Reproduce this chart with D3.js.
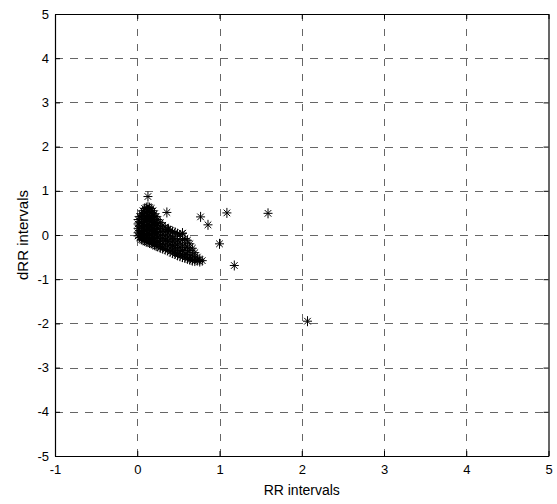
<!DOCTYPE html>
<html>
<head>
<meta charset="utf-8">
<script src="https://cdn.jsdelivr.net/npm/d3@7"></script>
<style>
  html, body { margin: 0; padding: 0; background: #fff; }
  svg { display: block; }
  text { font-family: "Liberation Sans", Arial, sans-serif; fill: #000; }
</style>
</head>
<body>
<script>
// ---- data ----
const xTicks = [-1, 0, 1, 2, 3, 4, 5];
const yTicks = [-5, -4, -3, -2, -1, 0, 1, 2, 3, 4, 5];
const xLabel = "RR intervals";
const yLabel = "dRR intervals";

// dense cluster, read column by column: [RR, dRR]
const clusterPoints = [
  [0.01,0.35],[0.01,0.25],[0.01,0.15],[0.01,0.05],[0.01,-0.02],
  [0.03,0.42],[0.03,0.30],[0.03,0.20],[0.03,0.10],[0.03,0.00],[0.03,-0.06],
  [0.05,0.48],[0.05,0.38],[0.05,0.28],[0.05,0.18],[0.05,0.08],[0.05,-0.02],[0.05,-0.10],
  [0.07,0.55],[0.07,0.45],[0.07,0.35],[0.07,0.25],[0.07,0.15],[0.07,0.05],[0.07,-0.05],[0.07,-0.12],
  [0.09,0.60],[0.09,0.50],[0.09,0.40],[0.09,0.30],[0.09,0.20],[0.09,0.10],[0.09,0.00],[0.09,-0.08],[0.09,-0.13],
  [0.11,0.62],[0.11,0.52],[0.11,0.42],[0.11,0.32],[0.11,0.22],[0.11,0.12],[0.11,0.02],[0.11,-0.06],[0.11,-0.15],
  [0.13,0.63],[0.13,0.53],[0.13,0.43],[0.13,0.33],[0.13,0.23],[0.13,0.13],[0.13,0.03],[0.13,-0.07],[0.13,-0.16],
  [0.15,0.62],[0.15,0.52],[0.15,0.42],[0.15,0.32],[0.15,0.22],[0.15,0.12],[0.15,0.02],[0.15,-0.08],[0.15,-0.18],
  [0.17,0.60],[0.17,0.50],[0.17,0.40],[0.17,0.30],[0.17,0.20],[0.17,0.10],[0.17,0.00],[0.17,-0.10],[0.17,-0.19],
  [0.19,0.55],[0.19,0.45],[0.19,0.35],[0.19,0.25],[0.19,0.15],[0.19,0.05],[0.19,-0.05],[0.19,-0.14],[0.19,-0.21],
  [0.21,0.48],[0.21,0.38],[0.21,0.28],[0.21,0.18],[0.21,0.08],[0.21,-0.02],[0.21,-0.12],[0.21,-0.22],
  [0.23,0.42],[0.23,0.32],[0.23,0.22],[0.23,0.12],[0.23,0.02],[0.23,-0.08],[0.23,-0.17],[0.23,-0.25],
  [0.25,0.35],[0.25,0.25],[0.25,0.15],[0.25,0.05],[0.25,-0.05],[0.25,-0.15],[0.25,-0.26],
  [0.28,0.28],[0.28,0.18],[0.28,0.08],[0.28,-0.02],[0.28,-0.12],[0.28,-0.22],[0.28,-0.29],
  [0.31,0.22],[0.31,0.12],[0.31,0.02],[0.31,-0.08],[0.31,-0.18],[0.31,-0.27],[0.31,-0.31],
  [0.34,0.18],[0.34,0.08],[0.34,-0.02],[0.34,-0.12],[0.34,-0.22],[0.34,-0.33],
  [0.37,0.13],[0.37,0.05],[0.37,-0.05],[0.37,-0.15],[0.37,-0.25],[0.37,-0.35],
  [0.40,0.10],[0.40,0.00],[0.40,-0.10],[0.40,-0.20],[0.40,-0.30],[0.40,-0.38],
  [0.43,0.08],[0.43,-0.04],[0.43,-0.14],[0.43,-0.24],[0.43,-0.34],[0.43,-0.41],
  [0.46,0.06],[0.46,-0.08],[0.46,-0.18],[0.46,-0.28],[0.46,-0.38],[0.46,-0.43],
  [0.49,0.03],[0.49,-0.12],[0.49,-0.22],[0.49,-0.32],[0.49,-0.42],[0.49,-0.46],
  [0.52,0.00],[0.52,-0.16],[0.52,-0.28],[0.52,-0.38],[0.52,-0.48],
  [0.55,0.04],[0.55,-0.10],[0.55,-0.25],[0.55,-0.35],[0.55,-0.45],[0.55,-0.50],
  [0.58,-0.08],[0.58,-0.20],[0.58,-0.32],[0.58,-0.44],[0.58,-0.52],
  [0.61,-0.12],[0.61,-0.28],[0.61,-0.40],[0.61,-0.50],[0.61,-0.54],
  [0.64,-0.20],[0.64,-0.35],[0.64,-0.47],[0.64,-0.56],
  [0.67,-0.30],[0.67,-0.45],[0.67,-0.55],[0.67,-0.58],
  [0.70,-0.40],[0.70,-0.52],[0.70,-0.59],
  [0.73,-0.50],[0.73,-0.58],
  [0.76,-0.56],[0.76,-0.60]
];

// isolated points
const outlierPoints = [
  [0.13,0.87],[0.36,0.51],[0.38,0.13],[0.55,0.04],[0.77,0.41],[0.79,-0.58],
  [0.86,0.23],[1.00,-0.20],[1.09,0.50],[1.18,-0.69],[1.59,0.49],[2.07,-1.95]
];

// ---- layout ----
const W = 557, H = 504;
const plot = { left: 55, right: 548.5, top: 14, bottom: 456 };

const svg = d3.select("body").append("svg").attr("width", W).attr("height", H);

const x = d3.scaleLinear().domain([-1, 5]).range([plot.left, plot.right]);
const y = d3.scaleLinear().domain([-5, 5]).range([plot.bottom, plot.top]);

// grid
const grid = svg.append("g").attr("stroke", "#666").attr("stroke-width", 1)
  .attr("stroke-dasharray", "7.5,7.5").attr("fill", "none").attr("shape-rendering", "crispEdges");
grid.selectAll("line.v").data(xTicks.slice(1, -1)).join("line").attr("class", "v")
  .attr("x1", d => Math.round(x(d)) + 0.5).attr("x2", d => Math.round(x(d)) + 0.5)
  .attr("y1", plot.bottom).attr("y2", plot.top);
grid.selectAll("line.h").data(yTicks.slice(1, -1)).join("line").attr("class", "h")
  .attr("y1", d => Math.round(y(d)) + 0.5).attr("y2", d => Math.round(y(d)) + 0.5)
  .attr("x1", plot.left).attr("x2", plot.right);

// axes (inward ticks, MATLAB box)
const fmt = d => String(d);
const tickLen = 5;
const axB = svg.append("g").attr("transform", `translate(0,${plot.bottom})`)
  .call(d3.axisBottom(x).tickValues(xTicks).tickFormat(fmt).tickSizeInner(-tickLen).tickSizeOuter(0).tickPadding(9));
const axT = svg.append("g").attr("transform", `translate(0,${plot.top})`)
  .call(d3.axisTop(x).tickValues(xTicks).tickFormat("").tickSizeInner(-tickLen).tickSizeOuter(0));
const axL = svg.append("g").attr("transform", `translate(${plot.left},0)`)
  .call(d3.axisLeft(y).tickValues(yTicks).tickFormat(fmt).tickSizeInner(-tickLen).tickSizeOuter(0).tickPadding(6));
const axR = svg.append("g").attr("transform", `translate(${plot.right},0)`)
  .call(d3.axisRight(y).tickValues(yTicks).tickFormat("").tickSizeInner(-tickLen).tickSizeOuter(0));
[axB, axT, axL, axR].forEach(a => {
  a.selectAll("path.domain").attr("stroke", "#000").attr("stroke-width", 1.2);
  a.selectAll(".tick line").attr("stroke", "#000");
  a.selectAll("text").attr("font-size", 13).attr("fill", "#000")
    .attr("font-family", "'Liberation Sans', Arial, sans-serif");
});

// markers '*'
const star = "M-4.5,0H4.5M0,-5V5M-3.3,-3.3L3.3,3.3M-3.3,3.3L3.3,-3.3";
const marks = svg.append("g").attr("stroke", "#000").attr("stroke-width", 1).attr("fill", "none");
marks.selectAll("path.c").data(clusterPoints).join("path").attr("class", "c")
  .attr("transform", d => `translate(${x(d[0])},${y(d[1])})`).attr("d", star);
marks.selectAll("path.o").data(outlierPoints).join("path").attr("class", "o")
  .attr("transform", d => `translate(${x(d[0])},${y(d[1])})`).attr("d", star);

// axis titles
svg.append("text").attr("x", (plot.left + plot.right) / 2).attr("y", 495)
  .attr("text-anchor", "middle").attr("font-size", 14).text(xLabel);
svg.append("text").attr("transform", `translate(28,${(plot.top + plot.bottom) / 2}) rotate(-90)`)
  .attr("text-anchor", "middle").attr("font-size", 15).text(yLabel);
</script>
</body>
</html>
